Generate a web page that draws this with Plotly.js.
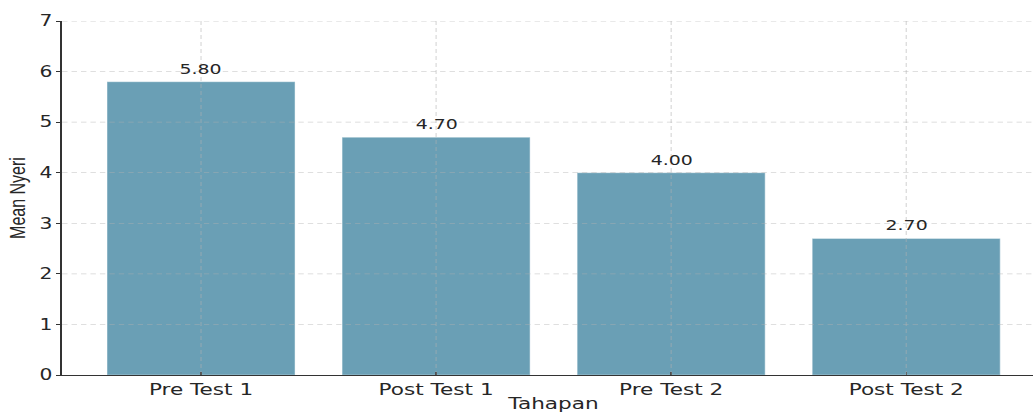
<!DOCTYPE html>
<html>
<head>
<meta charset="utf-8">
<script src="https://cdn.plot.ly/plotly-3.0.1.min.js"></script>
<style>
  html, body { margin: 0; padding: 0; background: #fff; overflow: hidden; }
  #wrap { width: 1033px; height: 413px; overflow: hidden; }
  #chart { height: 413px; transform-origin: 0 0; }
</style>
</head>
<body>
<div id="wrap"><div id="chart"></div></div>
<script>
// ---- data ----
const categories = ['Pre Test 1', 'Post Test 1', 'Pre Test 2', 'Post Test 2'];
const meanNyeri = [5.80, 4.70, 4.00, 2.70];
const yTicks = [0, 1, 2, 3, 4, 5, 6, 7];

// ---- layout helpers ----
const STRETCH = 1.35;                 // reference is horizontally stretched
const W = Math.round(1045 / STRETCH); // reference figure is cropped on the right
const chart = document.getElementById('chart');
chart.style.width = W + 'px';
chart.style.transform = 'scaleX(' + STRETCH + ')';

const barColor = '#6a9fb5';
const gridColor = 'rgba(176,176,176,0.55)';
const textColor = '#262626';

const trace = {
  type: 'bar',
  x: categories.map((c, i) => i),
  y: meanNyeri,
  marker: { color: barColor, line: { color: 'rgba(255,255,255,0.35)', width: 1 } },
  hoverinfo: 'skip'
};

// grid drawn above bars, as in the reference
const shapes = [];
yTicks.filter(v => v > 0).forEach(v => shapes.push({
  type: 'line', xref: 'paper', yref: 'y', x0: 0, x1: 1, y0: v, y1: v,
  layer: 'above', line: { color: gridColor, width: 0.8, dash: '4px,3px' }
}));
categories.forEach((c, i) => shapes.push({
  type: 'line', xref: 'x', yref: 'paper', x0: i, x1: i, y0: 0, y1: 1,
  layer: 'above', line: { color: gridColor, width: 0.8, dash: '4px,3px' }
}));

const annotations = meanNyeri.map((v, i) => ({
  x: i, y: v, xref: 'x', yref: 'y', text: v.toFixed(2),
  showarrow: false, yanchor: 'bottom', xanchor: 'center', yshift: 3,
  font: { family: 'DejaVu Sans', size: 14, color: textColor }
}));

const layout = {
  width: W, height: 413,
  margin: { l: 46, r: 0, t: 21, b: 38, pad: 0 },
  paper_bgcolor: '#fff', plot_bgcolor: '#fff',
  bargap: 0.2,
  showlegend: false,
  font: { family: 'DejaVu Sans', color: textColor },
  xaxis: {
    range: [-0.591, 3.59],
    tickmode: 'array', tickvals: categories.map((c, i) => i), ticktext: categories,
    showgrid: false, zeroline: false,
    showline: true, linecolor: '#333', linewidth: 1.2,
    ticks: 'inside', ticklen: 3, tickcolor: '#333', tickwidth: 1,
    tickfont: { family: 'DejaVu Sans', size: 16, color: textColor },
    title: { text: 'Tahapan', standoff: 8, font: { family: 'DejaVu Sans', size: 16, color: textColor } },
    automargin: false, fixedrange: true
  },
  yaxis: {
    range: [0, 7],
    tickmode: 'array', tickvals: yTicks, ticktext: yTicks.map(String),
    showgrid: false, zeroline: false,
    showline: true, linecolor: '#333', linewidth: 1.2,
    ticks: 'outside', ticklen: 3, tickcolor: '#333', tickwidth: 1,
    tickfont: { family: 'DejaVu Sans', size: 15, color: textColor },
    title: { text: 'Mean Nyeri', standoff: 6, font: { family: 'Liberation Sans, Arial, sans-serif', size: 16, color: textColor } },
    automargin: false, fixedrange: true
  },
  shapes: shapes,
  annotations: annotations
};

Plotly.newPlot(chart, [trace], layout, { displayModeBar: false, staticPlot: true });
</script>
</body>
</html>
